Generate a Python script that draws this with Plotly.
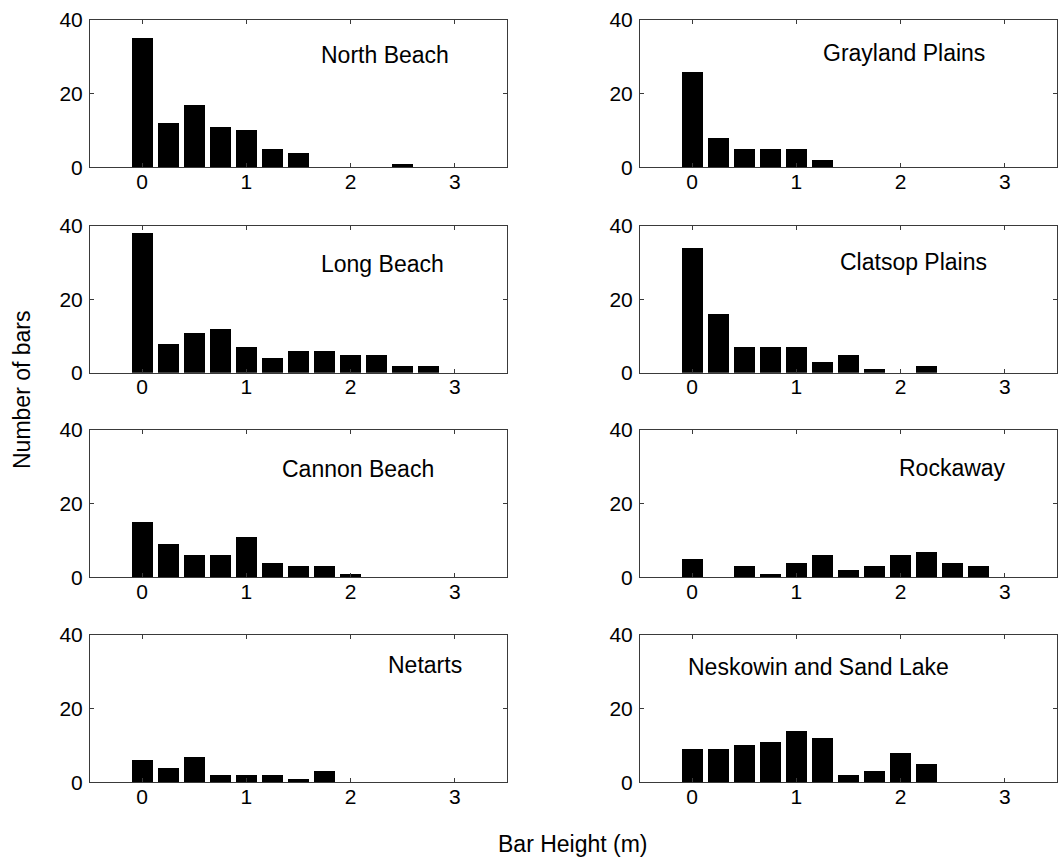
import plotly.graph_objects as go

# Bar height bin centres (m)
bin_centers = [0.0, 0.25, 0.5, 0.75, 1.0, 1.25, 1.5, 1.75, 2.0, 2.25, 2.5, 2.75]

# Counts of bars per height bin, one list per site
north_beach = [35, 12, 17, 11, 10, 5, 4, 0, 0, 0, 1, 0]
grayland_plains = [26, 8, 5, 5, 5, 2, 0, 0, 0, 0, 0, 0]
long_beach = [38, 8, 11, 12, 7, 4, 6, 6, 5, 5, 2, 2]
clatsop_plains = [34, 16, 7, 7, 7, 3, 5, 1, 0, 2, 0, 0]
cannon_beach = [15, 9, 6, 6, 11, 4, 3, 3, 1, 0, 0, 0]
rockaway = [5, 0, 3, 1, 4, 6, 2, 3, 6, 7, 4, 3]
netarts = [6, 4, 7, 2, 2, 2, 1, 3, 0, 0, 0, 0]
neskowin_sand_lake = [9, 9, 10, 11, 14, 12, 2, 3, 8, 5, 0, 0]

site_names = ["North Beach", "Grayland Plains", "Long Beach", "Clatsop Plains",
              "Cannon Beach", "Rockaway", "Netarts", "Neskowin and Sand Lake"]
site_counts = [north_beach, grayland_plains, long_beach, clatsop_plains,
               cannon_beach, rockaway, netarts, neskowin_sand_lake]

x_ticks = [0, 1, 2, 3]
y_ticks = [0, 20, 40]

# label anchor inside each panel (data units)
label_x = [2.33, 2.03, 2.31, 2.12, 2.07, 2.50, 2.71, 1.21]
label_y = [30.5, 31, 29.5, 30.2, 29.4, 29.8, 31.9, 31.2]

W, H = 1062, 867
col_px = [(90, 507), (640, 1057)]
row_px = [(20, 167.3), (225.7, 372.7), (430, 577.3), (635, 782.3)]

FONT = "Liberation Sans, Arial, sans-serif"
AX_COLOR = "#3a3a3a"

fig = go.Figure()
layout_axes = {}
annotations = []

for i, (name, counts) in enumerate(zip(site_names, site_counts)):
    r, c = divmod(i, 2)
    n = i + 1
    xa = "x" if n == 1 else f"x{n}"
    ya = "y" if n == 1 else f"y{n}"
    fig.add_trace(go.Bar(
        x=bin_centers, y=counts, width=0.2,
        marker=dict(color="black", line=dict(width=0)),
        xaxis=xa, yaxis=ya, showlegend=False, hoverinfo="x+y",
    ))
    x0, x1 = col_px[c]
    y0, y1 = row_px[r]
    common = dict(
        showline=True, linecolor=AX_COLOR, linewidth=1, mirror="ticks",
        ticks="inside", ticklen=4, tickwidth=1, tickcolor=AX_COLOR,
        showgrid=False, zeroline=False, automargin=False,
        tickfont=dict(family=FONT, size=21, color="black"),
    )
    layout_axes[f"xaxis{'' if n == 1 else n}"] = dict(
        common, domain=[x0 / W, x1 / W], range=[-0.5, 3.5],
        tickvals=x_ticks, ticktext=[str(t) for t in x_ticks],
        anchor=ya, ticklabelstandoff=-5,
    )
    layout_axes[f"yaxis{'' if n == 1 else n}"] = dict(
        common, domain=[1 - y1 / H, 1 - y0 / H], range=[0, 40],
        tickvals=y_ticks, ticktext=[str(t) for t in y_ticks],
        anchor=xa, ticklabelstandoff=2,
    )
    annotations.append(dict(
        text=name, x=label_x[i], y=label_y[i], xref=xa, yref=ya,
        showarrow=False, xanchor="center", yanchor="middle",
        font=dict(family=FONT, size=23, color="black"),
    ))

annotations.append(dict(
    text="Bar Height (m)", x=573 / W, y=1 - 844 / H, xref="paper", yref="paper",
    showarrow=False, xanchor="center", yanchor="middle",
    font=dict(family=FONT, size=23, color="black"),
))
annotations.append(dict(
    text="Number of bars", x=22 / W, y=1 - 390 / H, xref="paper", yref="paper",
    showarrow=False, xanchor="center", yanchor="middle", textangle=-90,
    font=dict(family=FONT, size=23, color="black"),
))

fig.update_layout(
    width=W, height=H,
    margin=dict(l=0, r=0, t=0, b=0, pad=0, autoexpand=False),
    paper_bgcolor="white", plot_bgcolor="white",
    bargap=0, annotations=annotations, **layout_axes,
)

fig.write_html("out.html")
